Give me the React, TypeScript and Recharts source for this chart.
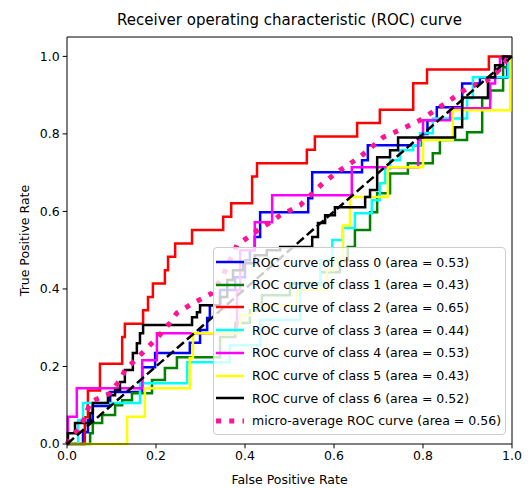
import { LineChart, Line, XAxis, YAxis, ReferenceLine } from "recharts";

const FONT = "'DejaVu Sans', sans-serif";

// ROC corners per class: fpr where tpr steps up, and the tpr reached there
const fpr0 = [0.036, 0.047, 0.058, 0.097, 0.169, 0.198, 0.276, 0.299, 0.315, 0.321, 0.344, 0.378, 0.4, 0.411, 0.422, 0.434, 0.542, 0.551, 0.663, 0.676, 0.798, 0.81, 0.831, 0.888, 0.928, 0.989];
const tpr0 = [0.03, 0.062, 0.098, 0.134, 0.198, 0.235, 0.261, 0.294, 0.325, 0.358, 0.397, 0.43, 0.474, 0.5, 0.534, 0.598, 0.634, 0.701, 0.732, 0.771, 0.8, 0.835, 0.869, 0.93, 0.945, 1];

const fpr1 = [0.052, 0.058, 0.079, 0.108, 0.124, 0.146, 0.191, 0.22, 0.247, 0.344, 0.378, 0.411, 0.438, 0.501, 0.569, 0.613, 0.631, 0.647, 0.681, 0.697, 0.726, 0.766, 0.822, 0.838, 0.899, 0.933, 0.951, 0.98, 0.996];
const tpr1 = [0.028, 0.054, 0.075, 0.1, 0.113, 0.131, 0.165, 0.196, 0.224, 0.276, 0.312, 0.345, 0.384, 0.415, 0.443, 0.474, 0.508, 0.552, 0.598, 0.647, 0.698, 0.724, 0.75, 0.784, 0.804, 0.892, 0.912, 0.972, 1];

const fpr2 = [0.04, 0.047, 0.074, 0.124, 0.13, 0.171, 0.182, 0.193, 0.22, 0.227, 0.243, 0.281, 0.351, 0.369, 0.416, 0.427, 0.539, 0.557, 0.652, 0.703, 0.778, 0.809, 0.948];
const tpr2 = [0.069, 0.138, 0.207, 0.276, 0.31, 0.345, 0.379, 0.414, 0.448, 0.483, 0.517, 0.552, 0.586, 0.621, 0.69, 0.724, 0.759, 0.793, 0.828, 0.862, 0.931, 0.966, 1];

const fpr3 = [0.025, 0.036, 0.164, 0.27, 0.366, 0.434, 0.524, 0.569, 0.596, 0.62, 0.647, 0.685, 0.703, 0.715, 0.726, 0.748, 0.778, 0.793, 0.822, 0.899, 0.912, 0.991];
const tpr3 = [0.062, 0.106, 0.157, 0.211, 0.255, 0.32, 0.41, 0.474, 0.526, 0.557, 0.595, 0.629, 0.673, 0.711, 0.732, 0.758, 0.771, 0.802, 0.84, 0.892, 0.946, 1];

const fpr4 = [0.002, 0.022, 0.169, 0.202, 0.382, 0.389, 0.422, 0.461, 0.64, 0.789, 0.8, 0.861, 0.951, 0.962, 0.973, 0.984];
const tpr4 = [0.07, 0.144, 0.216, 0.286, 0.397, 0.5, 0.572, 0.642, 0.714, 0.784, 0.835, 0.866, 0.93, 0.964, 0.995, 1];

const fpr5 = [0.135, 0.175, 0.276, 0.283, 0.389, 0.416, 0.517, 0.584, 0.598, 0.62, 0.636, 0.721, 0.8, 0.867, 0.996];
const tpr5 = [0.07, 0.144, 0.222, 0.286, 0.332, 0.358, 0.397, 0.448, 0.474, 0.564, 0.637, 0.714, 0.784, 0.861, 1];

const fpr6 = [0.002, 0.018, 0.052, 0.058, 0.092, 0.108, 0.119, 0.13, 0.148, 0.157, 0.164, 0.171, 0.281, 0.292, 0.299, 0.344, 0.36, 0.373, 0.396, 0.422, 0.449, 0.479, 0.551, 0.564, 0.58, 0.602, 0.67, 0.681, 0.697, 0.726, 0.744, 0.872, 0.888, 0.946, 0.962, 0.98];
const tpr6 = [0.028, 0.054, 0.08, 0.106, 0.126, 0.139, 0.16, 0.191, 0.235, 0.26, 0.286, 0.307, 0.327, 0.34, 0.358, 0.379, 0.423, 0.448, 0.466, 0.487, 0.5, 0.508, 0.534, 0.57, 0.59, 0.611, 0.637, 0.655, 0.74, 0.758, 0.791, 0.817, 0.894, 0.946, 0.977, 1];

// micro-average curve points
const fprMicro = [0, 0.011, 0.025, 0.04, 0.052, 0.097, 0.124, 0.13, 0.153, 0.182, 0.202, 0.231, 0.247, 0.283, 0.326, 0.351, 0.366, 0.382, 0.422, 0.463, 0.479, 0.524, 0.575, 0.613, 0.658, 0.71, 0.755, 0.793, 0.861, 0.899, 0.944, 0.966, 0.991, 1];
const tprMicro = [0, 0.021, 0.036, 0.067, 0.108, 0.131, 0.173, 0.191, 0.216, 0.25, 0.273, 0.312, 0.338, 0.363, 0.389, 0.436, 0.474, 0.513, 0.546, 0.577, 0.59, 0.616, 0.673, 0.706, 0.74, 0.791, 0.814, 0.835, 0.887, 0.918, 0.938, 0.959, 0.995, 1];

const aucs = [0.53, 0.43, 0.65, 0.44, 0.53, 0.43, 0.52];
const aucMicro = 0.56;
const colors = ["#0000ff", "#008000", "#ff0000", "#00ffff", "#ff00ff", "#ffff00", "#000000"];
const ticks = [0, 0.2, 0.4, 0.6, 0.8, 1.0];

// turn step corners into a staircase path
function stairs(fpr: number[], tpr: number[]) {
  const pts = [{ x: 0, y: 0 }];
  let prev = 0;
  fpr.forEach((f, i) => {
    pts.push({ x: f, y: prev });
    pts.push({ x: f, y: tpr[i] });
    prev = tpr[i];
  });
  pts.push({ x: 1, y: prev });
  return pts;
}

const classCurves = [
  stairs(fpr0, tpr0),
  stairs(fpr1, tpr1),
  stairs(fpr2, tpr2),
  stairs(fpr3, tpr3),
  stairs(fpr4, tpr4),
  stairs(fpr5, tpr5),
  stairs(fpr6, tpr6),
];
const microCurve = fprMicro.map((x, i) => ({ x, y: tprMicro[i] }));
const diagonal = [{ x: 0, y: 0 }, { x: 1, y: 1 }];

const axisProps = {
  stroke: "#000",
  tick: { fill: "#000", fontSize: 12.5, fontFamily: FONT },
  tickSize: 4.4,
  tickMargin: 3,
  tickFormatter: (v: number) => v.toFixed(1),
};

function RocLegend() {
  const rows = [
    ...aucs.map((a, i) => ({
      label: `ROC curve of class ${i} (area = ${a.toFixed(2)})`,
      color: colors[i],
      micro: false,
    })),
    { label: `micro-average ROC curve (area = ${aucMicro.toFixed(2)})`, color: "#ff1493", micro: true },
  ];
  return (
    <div
      style={{
        position: "absolute",
        left: 213,
        top: 247,
        width: 291,
        height: 186,
        background: "rgba(255,255,255,0.8)",
        border: "1px solid #cccccc",
        borderRadius: 4,
        fontFamily: FONT,
        fontSize: 12.5,
        color: "#000",
      }}
    >
      {rows.map((r, i) => (
        <div
          key={i}
          style={{ position: "absolute", left: 0, top: 3 + i * 22.7, height: 22, display: "flex", alignItems: "center", whiteSpace: "nowrap" }}
        >
          <svg width={36} height={10} style={{ marginLeft: 2 }}>
            {r.micro ? (
              <line x1={0} y1={5} x2={28} y2={5} stroke={r.color} strokeWidth={5} strokeDasharray="5 8.25" />
            ) : (
              <line x1={0} y1={5} x2={28} y2={5} stroke={r.color} strokeWidth={2.5} />
            )}
          </svg>
          <span>{r.label}</span>
        </div>
      ))}
    </div>
  );
}

export default function App() {
  return (
    <div style={{ position: "absolute", left: 0, top: 0, width: 532, height: 488, background: "#fff" }}>
      <div
        style={{
          position: "absolute",
          left: 67,
          top: 11,
          width: 445,
          textAlign: "center",
          fontFamily: FONT,
          fontSize: 15,
          lineHeight: "18px",
          color: "#000",
        }}
      >
        Receiver operating characteristic (ROC) curve
      </div>
      <LineChart width={532} height={488} margin={{ top: 37, right: 20, left: 0, bottom: 0 }}>
        <XAxis
          type="number"
          dataKey="x"
          domain={[0, 1]}
          ticks={ticks}
          height={44}
          {...axisProps}
          label={{ value: "False Positive Rate", position: "insideBottom", offset: 4, fill: "#000", fontSize: 12.5, fontFamily: FONT }}
        />
        <YAxis
          type="number"
          dataKey="y"
          domain={[0, 1.05]}
          ticks={ticks}
          width={67}
          {...axisProps}
          label={{ value: "True Positive Rate", angle: -90, position: "center", dx: -9, fill: "#000", fontSize: 12.5, fontFamily: FONT }}
        />
        <ReferenceLine y={1.05} stroke="#000" />
        <ReferenceLine x={1} stroke="#000" />
        {classCurves.map((d, i) => (
          <Line
            key={i}
            data={d}
            dataKey="y"
            type="linear"
            stroke={colors[i]}
            strokeWidth={2.5}
            dot={false}
            isAnimationActive={false}
          />
        ))}
        <Line
          data={microCurve}
          dataKey="y"
          type="linear"
          stroke="#ff1493"
          strokeWidth={5}
          strokeDasharray="5 8.25"
          dot={false}
          isAnimationActive={false}
        />
        <Line
          data={diagonal}
          dataKey="y"
          type="linear"
          stroke="#000"
          strokeWidth={2.5}
          strokeDasharray="9.25 4"
          dot={false}
          isAnimationActive={false}
        />
      </LineChart>
      <RocLegend />
    </div>
  );
}
